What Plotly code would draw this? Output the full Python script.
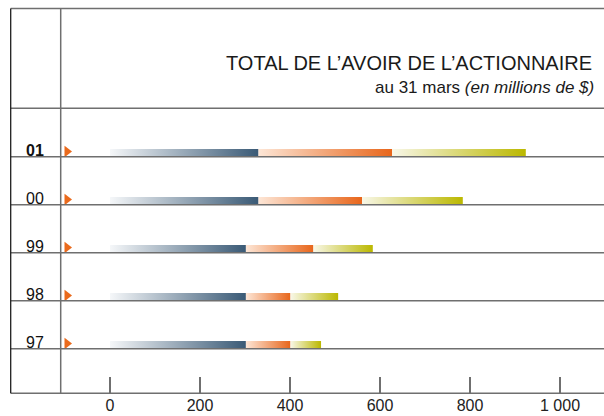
import plotly.graph_objects as go

# ---- data ----
years = ["97", "98", "99", "00", "01"]
capital = [302, 302, 302, 330, 330]          # blue segment
surplus = [99, 99, 150, 230, 297]            # orange segment
earnings = [68, 106, 132, 224, 297]          # green segment
tick_vals = [0, 200, 400, 600, 800, 1000]
tick_text = ["0", "200", "400", "600", "800", "1 000"]
title_text = "TOTAL DE L\u2019AVOIR DE L\u2019ACTIONNAIRE"
subtitle_text = "au 31 mars <i>(en millions de $)</i>"

# ---- style ----
W, H = 604, 416
B = 22
PH = H - B
FONT = "Liberation Sans, Arial, sans-serif"
GRAY = "#6f6f6f"
BAR_H = 0.16
seg_scales = [
    [[0, "#f5f7f9"], [1, "#3a5a76"]],
    [[0, "#fde6d6"], [1, "#e8661b"]],
    [[0, "#f8f7e8"], [1, "#bbb800"]],
]

fig = go.Figure()

for k, yr in enumerate(years):
    starts = [0, capital[k], capital[k] + surplus[k]]
    ends = [capital[k], capital[k] + surplus[k], capital[k] + surplus[k] + earnings[k]]
    for s, (x0, x1) in enumerate(zip(starts, ends)):
        fig.add_trace(go.Scatter(
            x=[x0, x1, x1, x0, x0],
            y=[k, k, k + BAR_H, k + BAR_H, k],
            mode="lines", fill="toself",
            line=dict(width=0, color="rgba(0,0,0,0)"),
            fillgradient=dict(type="horizontal", colorscale=seg_scales[s]),
            hoverinfo="skip", showlegend=False,
        ))

# triangle markers
fig.add_trace(go.Scatter(
    x=[-95.5] * len(years), y=[k + 0.11 for k in range(len(years))],
    mode="markers",
    marker=dict(symbol="triangle-right", size=10, color="#ea6a1c", line=dict(width=0)),
    hoverinfo="skip", showlegend=False,
))

shapes = []
px = lambda p: p / W
py = lambda p: 1 - p / PH
# row lines
for k in range(len(years)):
    shapes.append(dict(type="line", xref="paper", yref="y", x0=px(10.7), x1=1, y0=k, y1=k,
                       line=dict(color=GRAY, width=1.5)))
# title separator, top, bottom
for yy in [108.3, 8.5, 393.3]:
    shapes.append(dict(type="line", xref="paper", yref="paper", x0=px(10.7), x1=1,
                       y0=py(yy), y1=py(yy), line=dict(color=GRAY, width=1.5)))
# vertical lines
shapes.append(dict(type="line", xref="paper", yref="paper", x0=px(10.7), x1=px(10.7),
                   y0=py(393.3), y1=py(8.5), line=dict(color="#1e1e1e", width=1.3)))
shapes.append(dict(type="line", xref="paper", yref="paper", x0=px(60.7), x1=px(60.7),
                   y0=py(393.3), y1=py(8.5), line=dict(color=GRAY, width=1.5)))

annotations = []
for k, yr in enumerate(years):
    annotations.append(dict(
        x=px(46), xref="paper", xanchor="right", y=k, yref="y", yanchor="bottom",
        yshift=-4, showarrow=False,
        text=f"<b>{yr}</b>" if k == len(years) - 1 else yr,
        font=dict(family=FONT, size=16, color="#111"),
    ))
annotations.append(dict(x=px(594), xref="paper", xanchor="right", y=py(76), yref="paper",
                        yanchor="bottom", showarrow=False, text=title_text,
                        font=dict(family=FONT, size=20, color="#1a1a1a")))
annotations.append(dict(x=px(596), xref="paper", xanchor="right", y=py(99), yref="paper",
                        yanchor="bottom", showarrow=False, text=subtitle_text,
                        font=dict(family=FONT, size=17, color="#1a1a1a")))

fig.update_layout(
    width=W, height=H,
    margin=dict(l=0, r=0, t=0, b=B, pad=0),
    paper_bgcolor="white", plot_bgcolor="white",
    shapes=shapes, annotations=annotations,
    xaxis=dict(range=[-110 / 0.45, (W - 110) / 0.45], tickvals=tick_vals, ticktext=tick_text,
               ticks="inside", ticklen=17, tickwidth=1.5, tickcolor=GRAY,
               showgrid=False, zeroline=False, showline=False, fixedrange=True,
               tickfont=dict(family=FONT, size=16, color="#222")),
    yaxis=dict(range=[(348.7 - PH) / 48, 348.7 / 48], visible=False, showgrid=False,
               zeroline=False, fixedrange=True),
    showlegend=False,
)

fig.write_html("out.html", config={"displayModeBar": False},
               post_script="document.body.style.margin='0';document.body.style.overflow='hidden';")
